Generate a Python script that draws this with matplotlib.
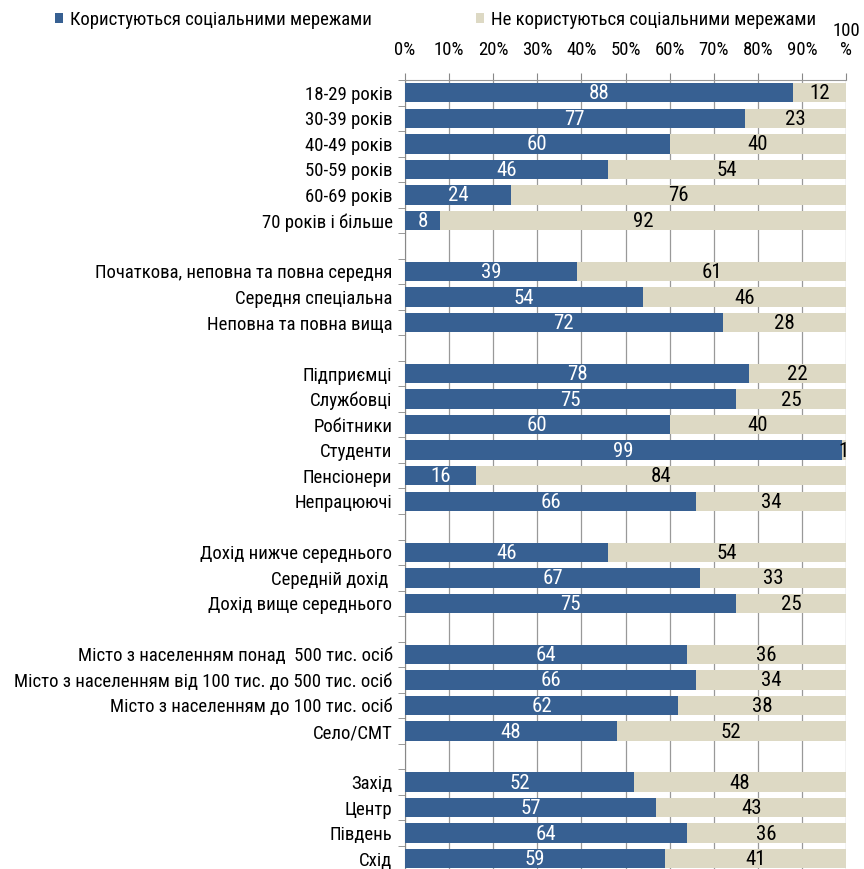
import matplotlib
matplotlib.use("Agg")
import matplotlib.pyplot as plt
import numpy as np

plt.rcParams['font.family'] = ['Roboto Condensed', 'Liberation Sans', 'DejaVu Sans']

categories = [
    "18-29 років", "30-39 років", "40-49 років", "50-59 років", "60-69 років", "70 років і більше",
    "",
    "Початкова, неповна та повна середня", "Середня спеціальна", "Неповна та повна вища",
    "",
    "Підприємці", "Службовці", "Робітники", "Студенти", "Пенсіонери", "Непрацюючі",
    "",
    "Дохід нижче середнього", "Середній дохід ", "Дохід вище середнього",
    "",
    "Місто з населенням понад  500 тис. осіб", "Місто з населенням від 100 тис. до 500 тис. осіб",
    "Місто з населенням до 100 тис. осіб", "Село/СМТ",
    "",
    "Захід", "Центр", "Південь", "Схід",
]
use = [88, 77, 60, 46, 24, 8, None, 39, 54, 72, None, 78, 75, 60, 99, 16, 66, None,
       46, 67, 75, None, 64, 66, 62, 48, None, 52, 57, 64, 59]
nouse = [12, 23, 40, 54, 76, 92, None, 61, 46, 28, None, 22, 25, 40, 1, 84, 34, None,
         54, 33, 25, None, 36, 34, 38, 52, None, 48, 43, 36, 41]
legend_labels = ["Користуються соціальними мережами", "Не користуються соціальними мережами"]
xticks = [0, 10, 20, 30, 40, 50, 60, 70, 80, 90, 100]
xticklabels = ["0%", "10%", "20%", "30%", "40%", "50%", "60%", "70%", "80%", "90%", "100\n%"]

blue = "#376092"
beige = "#DDD9C4"

n = len(categories)
row_px = 25.53
top_px = 80
ax_h_px = n * row_px
W, H = 864, 869

fig = plt.figure(figsize=(8.64, 8.69), dpi=100)
ax = fig.add_axes([405/W, (H - top_px - ax_h_px)/H, 441/W, ax_h_px/H])

y = np.arange(n)
u = np.array([v if v is not None else 0 for v in use], dtype=float)
nu = np.array([v if v is not None else 0 for v in nouse], dtype=float)
h = 0.76
b1 = ax.barh(y, u, height=h, color=blue, zorder=3, label=legend_labels[0])
b2 = ax.barh(y, nu, left=u, height=h, color=beige, zorder=3, label=legend_labels[1])

for i in range(n):
    if use[i] is None:
        continue
    ax.text(u[i] / 2, y[i] + 0.04, str(use[i]), ha='center', va='center', color='white', fontsize=15, zorder=4)
    ax.text(u[i] + nu[i] / 2, y[i] + 0.04, str(nouse[i]), ha='center', va='center', color='black', fontsize=15, zorder=4, clip_on=False)

ax.set_ylim(n - 0.5, -0.5)
ax.set_xlim(0, 100)
ax.set_yticks(y)
ax.set_yticklabels(categories, fontsize=13.5)
ax.tick_params(axis='y', length=0, pad=9)
ax.set_yticks(np.arange(-0.5, n, 1), minor=True)
ax.tick_params(axis='y', which='minor', length=5, color='#888888', direction='out')

ax.xaxis.tick_top()
ax.set_xticks(xticks)
ax.set_xticklabels(xticklabels, fontsize=13.5, linespacing=1.05)
ax.tick_params(axis='x', length=5, color='#888888', pad=10)
ax.grid(axis='x', color='#999999', linewidth=0.9, zorder=0)

for s in ['right', 'bottom']:
    ax.spines[s].set_visible(False)
ax.spines['top'].set_color('#999999')
ax.spines['left'].set_color('#888888')

common = dict(loc='center left', frameon=False, fontsize=13.5, borderpad=0, borderaxespad=0,
              handlelength=0.45, handleheight=0.45, handletextpad=0.35)
fig.legend([b1], [legend_labels[0]], bbox_to_anchor=(55/W, 1 - 20/H), **common)
fig.legend([b2], [legend_labels[1]], bbox_to_anchor=(476/W, 1 - 20/H), **common)

fig.savefig("out.png", dpi=100)
